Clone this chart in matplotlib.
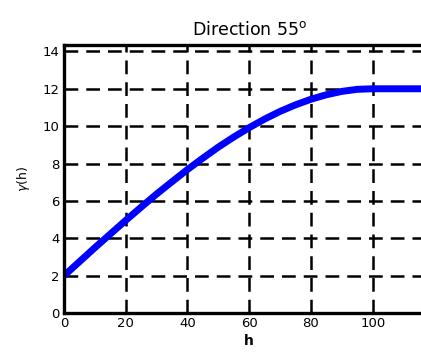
import matplotlib.pyplot as plt

plt.rcParams['font.family'] = ['DejaVu Sans']

# lag distance and semivariogram values
h = [0, 5, 10, 15, 20, 25, 30, 35, 40, 45, 50, 55, 60, 65, 70, 75,
     80, 85, 90, 95, 100, 105, 110, 115, 120]
gamma = [2.0, 2.75, 3.5, 4.23, 4.96, 5.67, 6.37, 7.03, 7.68, 8.29, 8.88,
         9.42, 9.92, 10.38, 10.79, 11.14, 11.44, 11.68, 11.86, 11.97,
         12.0, 12.0, 12.0, 12.0, 12.0]

x_ticks = [0, 20, 40, 60, 80, 100]
y_ticks = [0, 2, 4, 6, 8, 10, 12, 14]

fig = plt.figure(figsize=(4.21, 3.53), dpi=100)
ax = fig.add_axes([0.152, 0.113, 0.88, 0.76])

ax.plot(h, gamma, color='#0000ff', linewidth=5, solid_capstyle='butt')

ax.set_xlim(0, 120)
ax.set_ylim(0, 14.35)
ax.set_xticks(x_ticks)
ax.set_yticks(y_ticks)
ax.tick_params(direction='in', length=0, labelsize=9.5, pad=3)

ax.grid(True, color='black', linestyle=(0, (5.5, 3.2)), linewidth=1.8)
ax.set_axisbelow(True)

for s in ax.spines.values():
    s.set_linewidth(2.4)
ax.spines['right'].set_visible(False)

ax.set_title(r'Direction 55$^{\mathrm{o}}$', fontsize=12.5, pad=7)
ax.set_xlabel('h', fontsize=10, fontweight='bold', labelpad=3)
ax.set_ylabel(r'$\gamma$(h)', fontsize=9, labelpad=8)

fig.savefig('out.png', dpi=100, facecolor='white')
